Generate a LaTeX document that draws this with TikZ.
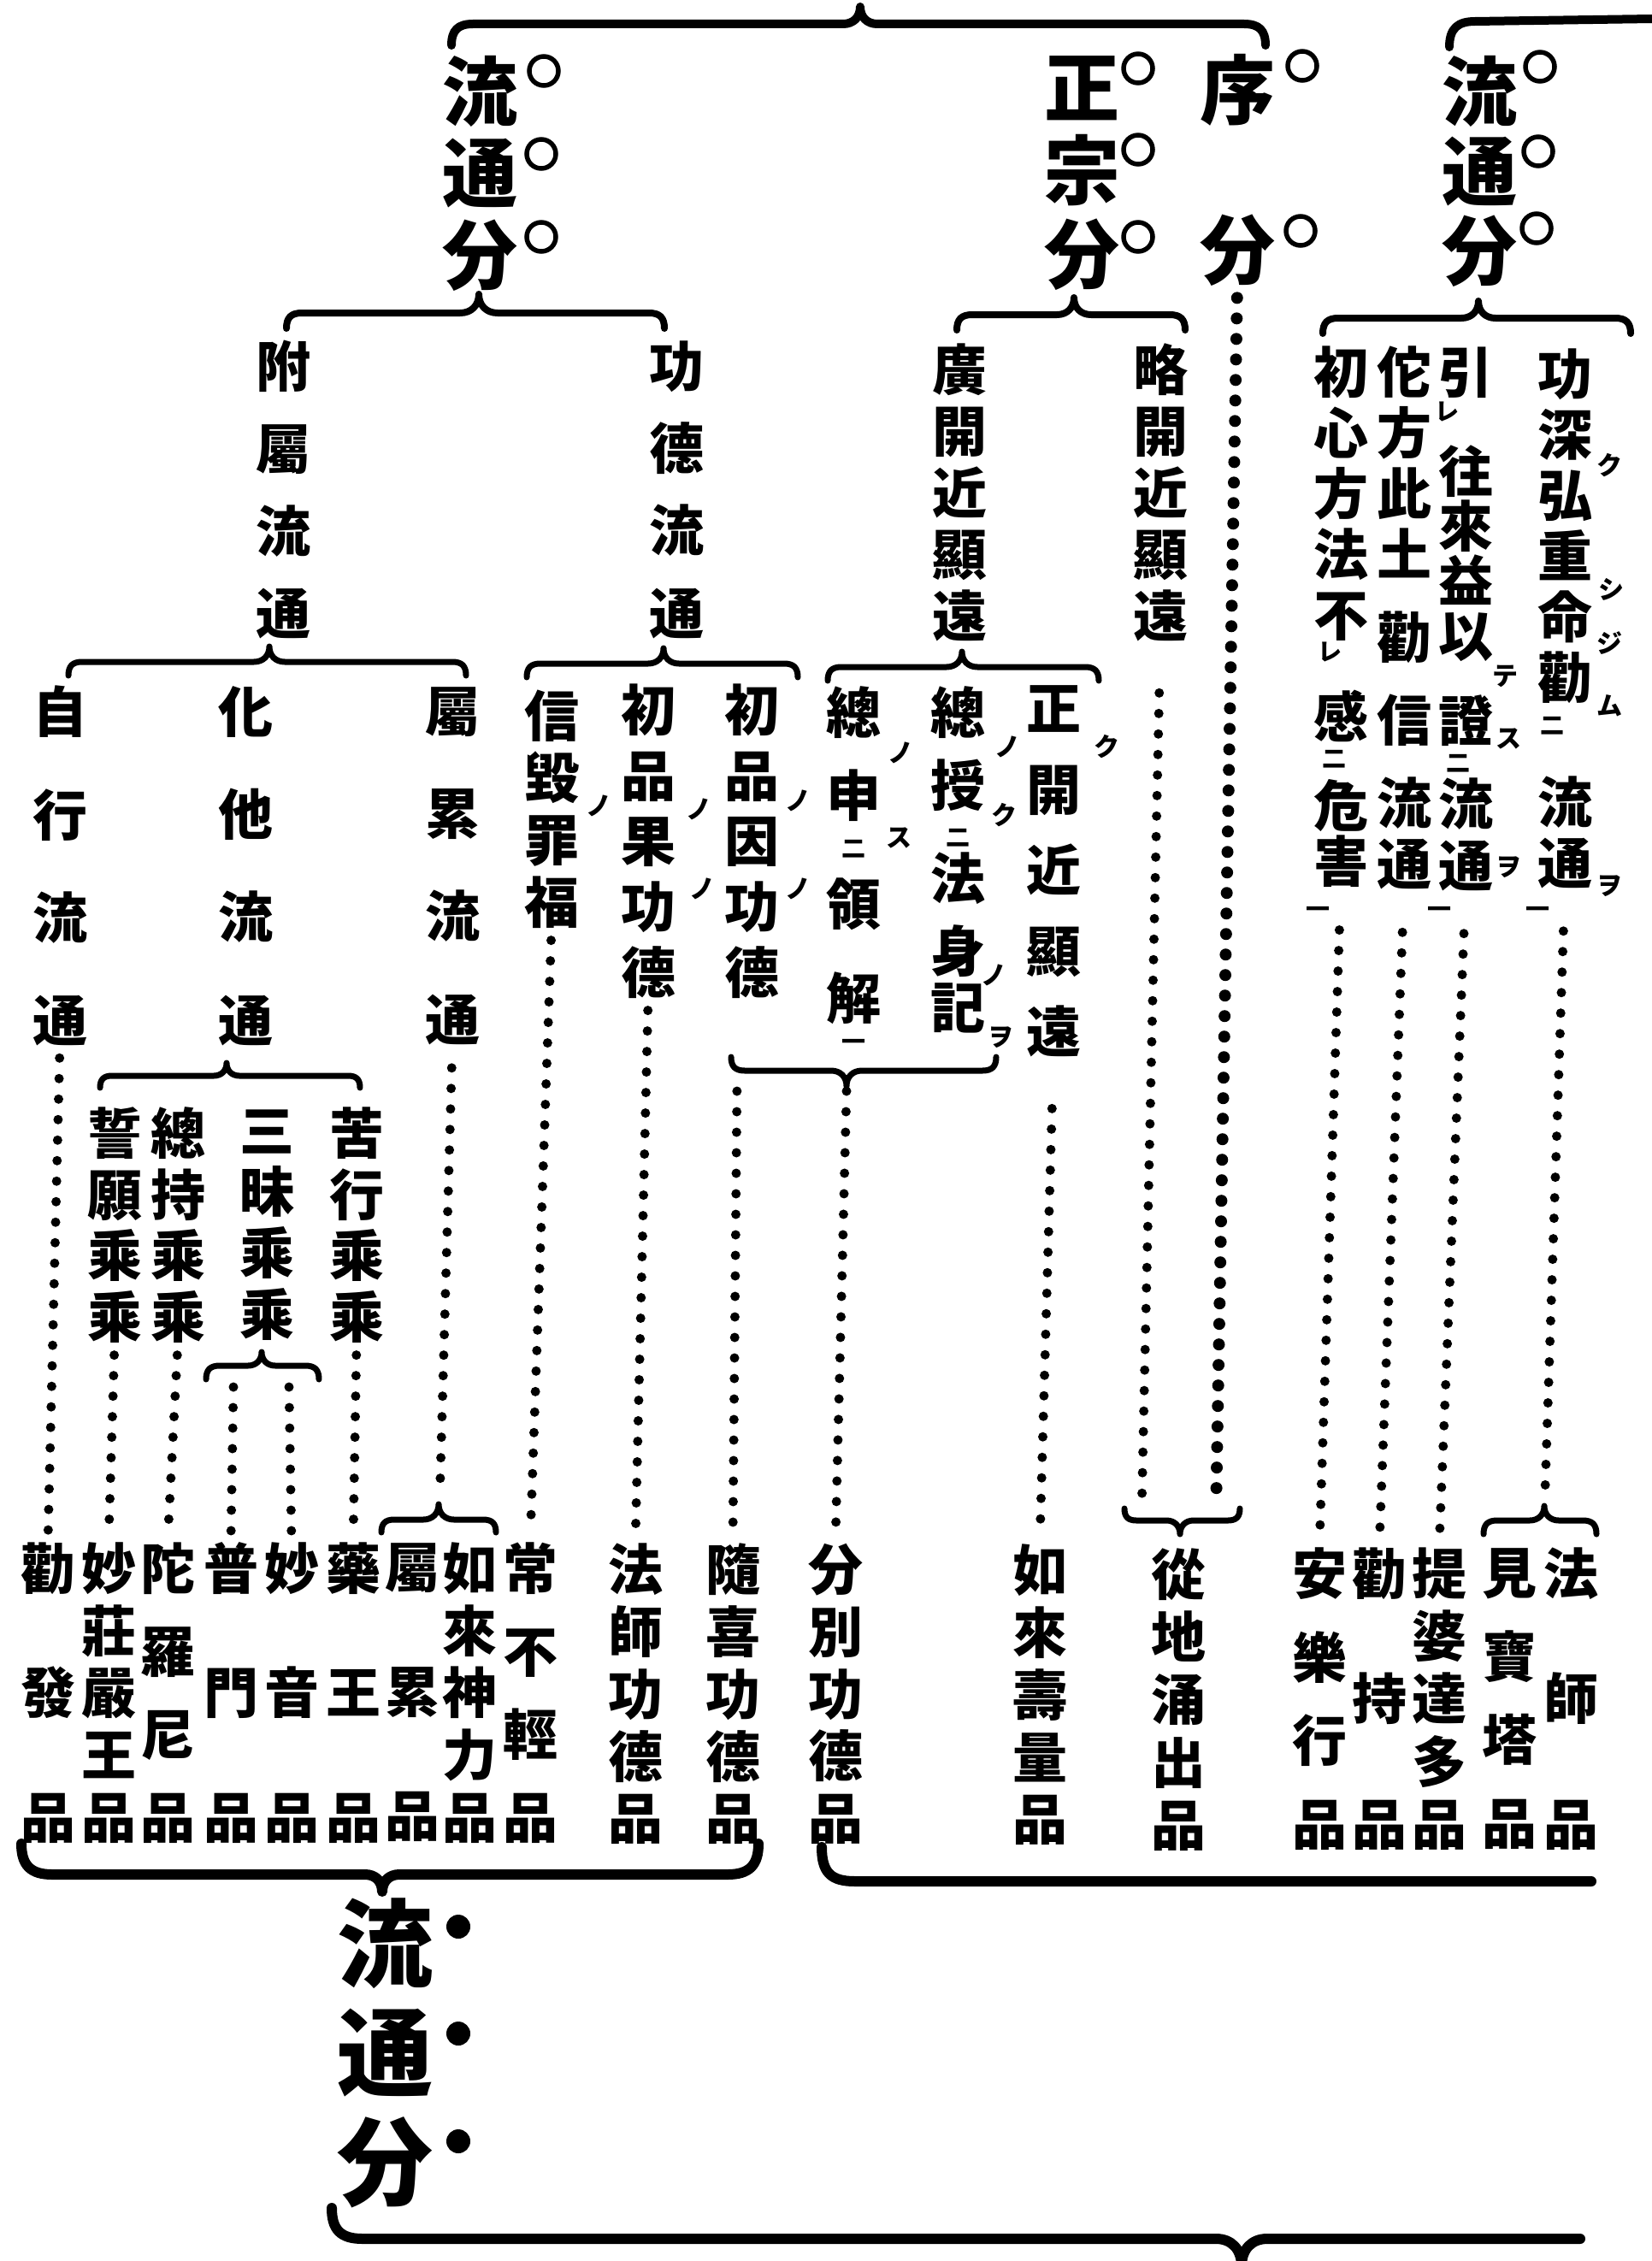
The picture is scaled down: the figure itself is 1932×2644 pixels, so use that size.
\documentclass[tikz,border=0pt]{standalone}
\usepackage{fontspec}
\newfontfamily\jp{Noto Sans CJK JP}

\tikzset{
  head/.style={font=\jp\bfseries\fontsize{88}{#1}\selectfont, align=center},
  col/.style={font=\jp\bfseries\fontsize{64}{#1}\selectfont, align=center},
  kana/.style={font=\jp\bfseries\fontsize{30}{30}\selectfont},
  kaeri/.style={font=\jp\bfseries\fontsize{28}{28}\selectfont},
  brc/.style={line width=#1, line cap=round, line join=round},
  dotln/.style={line width=11pt, line cap=round, dash pattern=on 0pt off 24pt,
    shorten <=14pt, shorten >=12pt},
  ring/.style={line width=5.5pt},
}

% brace: [width] x-left, x-right, y, tip x, end curl, tip height
\newcommand\brc[7][7pt]{%
  \draw[brc=#1] (#2,{#4+(#6)}) .. controls (#2,{#4+0.3*(#6)}) and ({#2+0.3*abs(#6)},#4) .. ({#2+abs(#6)},#4)
    -- ({#5-abs(#7)},#4) .. controls ({#5-0.4*abs(#7)},#4) and (#5,{#4-0.4*(#7)}) .. (#5,{#4-(#7)})
    .. controls (#5,{#4-0.4*(#7)}) and ({#5+0.4*abs(#7)},#4) .. ({#5+abs(#7)},#4)
    -- ({#3-abs(#6)},#4) .. controls ({#3-0.3*abs(#6)},#4) and (#3,{#4+0.3*(#6)}) .. (#3,{#4+(#6)});}

\begin{document}
\begin{tikzpicture}[x=1pt, y=-1pt]
  \tikzstyle{every node}+=[inner sep=0pt]
  \fill[white] (0,0) rectangle (1932,2644);
  \useasboundingbox (0,0) rectangle (1932,2644);

  \node[head=95.5] (ryu1) at (561,202.5) {流\\通\\分};
  \node[head=97.5] (shoshu) at (1265,202.5) {正\\宗\\分};
  \node[head=187] (jo) at (1447,198.5) {序\\分};
  \node[head=93] (ryu2) at (1730,200) {流\\通\\分};
  \draw[ring] (636,83) circle[radius=17pt];
  \draw[ring] (633,180) circle[radius=17pt];
  \draw[ring] (633,277) circle[radius=17pt];
  \draw[ring] (1331,80) circle[radius=17pt];
  \draw[ring] (1331,175) circle[radius=17pt];
  \draw[ring] (1331,277) circle[radius=17pt];
  \draw[ring] (1523,77) circle[radius=17pt];
  \draw[ring] (1521,270) circle[radius=17pt];
  \draw[ring] (1801,78) circle[radius=17pt];
  \draw[ring] (1799,177) circle[radius=17pt];
  \draw[ring] (1797,267) circle[radius=17pt];

  \brc[10pt]{528}{1480}{28}{1006}{25}{20}
  \draw[brc=10pt] (1695,55) .. controls (1695,33) and (1705,25) .. (1725,25) -- (1932,22);
  \brc[8pt]{335}{777}{366}{560}{18}{22}
  \brc[8pt]{1119}{1386}{368}{1256}{18}{20}
  \brc[8pt]{1547}{1907}{372}{1729}{18}{20}

  \node[col=96.3] (fuzoku) at (331,572.5) {附\\屬\\流\\通};
  \node[col=96.3] (kudoku) at (791,572.5) {功\\德\\流\\通};
  \node[col=72] (kokai) at (1122,576) {廣\\開\\近\\顯\\遠};
  \node[col=72] (ryakukai) at (1357,576) {略\\開\\近\\顯\\遠};
  \node[col=71] (colA) at (1830,723) {功\\深\\弘\\重\\命\\勸\\[75pt]流\\通};
  \node[col=64] (colB) at (1714,723.5) {引\\[52pt]往\\來\\益\\以\\[36pt]證\\[33pt]流\\[8pt]通};
  \node[col=71] (colC) at (1642,722.5) {佗\\方\\此\\土\\[26pt]勸\\[26pt]信\\[26pt]流\\通};
  \node[col=71] (colD) at (1568,721) {初\\心\\方\\法\\不\\[48pt]感\\[33pt]危\\[-6pt]害};

  \brc[7pt]{80}{545}{774}{315}{16}{18}
  \brc[7pt]{616}{933}{776}{776}{16}{18}
  \brc[7pt]{968}{1285}{780}{1125}{16}{18}

  \node[col=120.3] (jigyo) at (70,1012.5) {自\\行\\流\\通};
  \node[col=120.3] (keta) at (287,1012.5) {化\\他\\流\\通};
  \node[col=120.3] (zokurui) at (529,1012.5) {屬\\累\\流\\通};
  \node[col=72.7] (shinki) at (645,946) {信\\毀\\罪\\福};
  \node[col=76.75] (shoka) at (758,983.5) {初\\品\\果\\功\\德};
  \node[col=76.75] (shoin) at (879,983.5) {初\\品\\因\\功\\德};
  \node[col=97] (soshin) at (998,1000) {總\\申\\[30pt]領\\[13pt]解};
  \node[col=85] (soju) at (1120,1005.5) {總\\授\\[24pt]法\\身\\[-19pt]記};
  \node[col=94.5] (seikai) at (1232,1019) {正\\開\\近\\顯\\遠};

  \node[kana] (ka1) at (700,942) {ノ};
  \node[kana] (ka2) at (817,946) {ノ};
  \node[kana] (ka3) at (821,1039) {ノ};
  \node[kana] (ka4) at (933,936) {ノ};
  \node[kana] (ka5) at (933,1039) {ノ};
  \node[kana] (ka6) at (1053,880) {ノ};
  \node[kana] (ka7) at (1051,980) {ス};
  \node[kana] (ka8) at (1178,873) {ノ};
  \node[kana] (ka9) at (1174,953) {ク};
  \node[kana] (ka10) at (1162,1140) {ノ};
  \node[kana] (ka11) at (1170,1213) {ヲ};
  \node[kana] (ka12) at (1294,873) {ク};
  \node[kana] (ka13) at (1882,544) {ク};
  \node[kana] (ka14) at (1884,689) {シ};
  \node[kana] (ka15) at (1882,752) {ジ};
  \node[kana] (ka16) at (1882,825) {ム};
  \node[kana] (ka17) at (1882,1036) {ヲ};
  \node[kana] (ka18) at (1760,791) {テ};
  \node[kana] (ka19) at (1764,864) {ス};
  \node[kana] (ka20) at (1764,1014) {ヲ};
  \node[kaeri] (ke1) at (998,993) {二};
  \node[kaeri] (ke2) at (998,1222) {一};
  \node[kaeri] (ke3) at (1120,980) {二};
  \node[kaeri] (ke4) at (1815,849) {二};
  \node[kaeri] (ke5) at (1798,1067) {一};
  \node[kaeri] (ke6) at (1692,481) {レ};
  \node[kaeri] (ke7) at (1705,893) {二};
  \node[kaeri] (ke8) at (1683,1067) {一};
  \node[kaeri] (ke9) at (1555,762) {レ};
  \node[kaeri] (ke10) at (1560,888) {二};
  \node[kaeri] (ke11) at (1541,1067) {一};

  \brc[7pt]{117}{421}{1258}{265}{14}{15}
  \brc[7pt]{855}{1165}{1252}{990}{-16}{-18}

  \node[col=71.7] (kugyo) at (417,1432.5) {苦\\行\\乘\\乘};
  \node[col=71.7] (sanmai) at (312,1432.5) {三\\昧\\乘\\乘};
  \node[col=71.7] (soji) at (208,1432.5) {總\\持\\乘\\乘};
  \node[col=71.7] (seigan) at (134,1432.5) {誓\\願\\乘\\乘};
  \brc[7pt]{241}{373}{1597}{306}{16}{16}

  \node[col=145.5] (kanpotsu) at (56,1979.5) {勸\\發\\品};
  \node[col=72.75] (shogon) at (127,1979.5) {妙\\莊\\嚴\\王\\品};
  \node[col=97] (darani) at (196,1979.5) {陀\\羅\\尼\\品};
  \node[col=145.5] (fumon) at (270,1979.5) {普\\門\\品};
  \node[col=145.5] (myoon) at (341,1979.5) {妙\\音\\品};
  \node[col=145.5] (yakuo) at (413,1979.5) {藥\\王\\品};
  \node[col=145.5] (zokuhon) at (482,1979.5) {屬\\累\\品};
  \node[col=72.75] (jinriki) at (549,1979.5) {如\\來\\神\\力\\品};
  \node[col=97] (fukyo) at (620,1979.5) {常\\不\\輕\\品};
  \node[col=72.75] (hosshikd) at (743,1981) {法\\師\\功\\德\\品};
  \node[col=72.75] (zuiki) at (857,1981) {隨\\喜\\功\\德\\品};
  \node[col=72.75] (funbetsu) at (977,1981) {分\\別\\功\\德\\品};
  \node[col=72.75] (juryo) at (1216,1982) {如\\來\\壽\\量\\品};
  \node[col=73.25] (yushutsu) at (1378,1987.5) {從\\地\\涌\\出\\品};
  \node[col=97.7] (anraku) at (1543,1986.5) {安\\樂\\行\\品};
  \node[col=146.5] (kanji) at (1613,1986.5) {勸\\持\\品};
  \node[col=73.25] (daiba) at (1683,1986.5) {提\\婆\\達\\多\\品};
  \node[col=97.7] (hoto) at (1765,1986.5) {見\\寶\\塔\\品};
  \node[col=146.5] (hosshi) at (1837,1986.5) {法\\師\\品};

  \brc[7pt]{446}{580}{1777}{513}{15}{18}
  \brc[7pt]{1315}{1450}{1778}{1380}{-14}{-16}
  \brc[7pt]{1735}{1867}{1778}{1806}{16}{17}

  \coordinate (smL) at (273,1622);
  \coordinate (smR) at (338,1622);
  \coordinate (zkTip) at (514,1762);
  \coordinate (fbL) at (862,1262);
  \coordinate (fbTip) at (990,1276);
  \coordinate (yuL) at (1335,1774);
  \coordinate (yuR) at (1422,1774);
  \coordinate (hoTip) at (1806,1772);

  \draw[dotln] (jigyo.south) -- (kanpotsu.north);
  \draw[dotln] (seigan.south) -- (shogon.north);
  \draw[dotln] (soji.south) -- (darani.north);
  \draw[dotln, shorten <=0pt] (smL) -- (fumon.north);
  \draw[dotln, shorten <=0pt] (smR) -- (myoon.north);
  \draw[dotln] (kugyo.south) -- (yakuo.north);
  \draw[dotln, shorten <=27pt] (zokurui.south) -- (zkTip);
  \draw[dotln] (shinki.south) -- (fukyo.north);
  \draw[dotln] (shoka.south) -- (hosshikd.north);
  \draw[dotln] (fbL) -- (zuiki.north);
  \draw[dotln, shorten <=0pt] (fbTip) -- (funbetsu.north);
  \draw[dotln, shorten <=60pt] (seikai.south) -- (juryo.north);
  \draw[dotln, shorten <=60pt] (ryakukai.south) -- (yuL);
  \draw[dotln, line width=14pt] (jo.south) -- (yuR);
  \draw[dotln, shorten <=50pt] (colD.south) -- (anraku.north);
  \draw[dotln, shorten <=50pt] (colC.south) -- (kanji.north);
  \draw[dotln, shorten <=50pt] (colB.south) -- (daiba.north);
  \draw[dotln, shorten <=50pt] (colA.south) -- (hoTip);

  \brc[12pt]{25}{887}{2192}{447}{-36}{-20}
  \draw[brc=12pt] (961,2160) .. controls (961,2190) and (972,2200) .. (1000,2200) -- (1861,2200);

  \node[font=\jp\bfseries\fontsize{112}{127.5}\selectfont, align=center] (ryu3) at (450,2400.5) {流\\通\\分};
  \fill (536,2253) circle[radius=14pt];
  \fill (536,2378) circle[radius=14pt];
  \fill (536,2504) circle[radius=14pt];
  \draw[brc=12pt] (388,2582) .. controls (388,2607) and (398,2618) .. (424,2618) -- (1422,2618)
    .. controls (1440,2618) and (1452,2630) .. (1452,2650) .. controls (1452,2630) and (1464,2618) .. (1482,2618)
    -- (1848,2618);
\end{tikzpicture}
\end{document}
